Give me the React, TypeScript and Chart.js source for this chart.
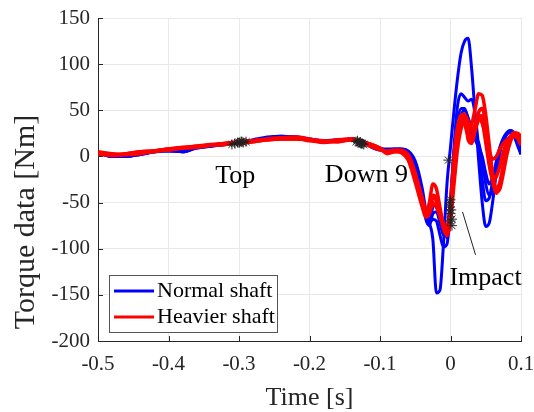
import React, { useEffect, useRef } from "react";
import { Chart, registerables } from "chart.js";
Chart.register(...registerables);

const FONT = "'Liberation Serif', 'Times New Roman', serif";

const TIME = [
  -0.5, -0.48, -0.46, -0.44, -0.42, -0.4, -0.38, -0.36, -0.34, -0.32, -0.3, -0.28, -0.26, -0.24, -0.22, -0.2, -0.18, -0.16, -0.14, -0.12, -0.1,
  -0.09, -0.08, -0.07, -0.06, -0.05, -0.04, -0.035, -0.03, -0.025, -0.02, -0.015, -0.01, -0.005, 0, 0.005, 0.01, 0.015, 0.02, 0.025, 0.03,
  0.035, 0.04, 0.045, 0.05, 0.055, 0.06, 0.065, 0.07, 0.075, 0.08, 0.085, 0.09, 0.095, 0.1,
];

const normal1 = [4, 0, 0, 2, 5, 7, 5, 9, 11, 13, 15, 17, 20, 22, 21, 18, 16, 18, 19, 14, 8,
  8, 8, 8, 6, -5, -35, -58, -72, -90, -148, -145, -95, -30, 10, 50, 85, 112, 125, 128, 95, 45, -5, -50, -76, -72, -48, -18, 5, 16, 24, 28, 26, 16, 4];
const normal2 = [3, 1, 0, 3, 6, 6, 5, 10, 12, 14, 16, 17, 20, 21, 21, 19, 17, 18, 18, 15, 9,
  7, 8, 8, 5, -8, -40, -62, -72, -68, -70, -85, -98, -95, -55, 10, 55, 68, 64, 60, 62, 45, 10, -25, -48, -45, -25, -5, 10, 20, 26, 28, 24, 14, 3];
const normal3 = [4, 0, 1, 3, 5, 7, 6, 9, 11, 13, 15, 18, 21, 22, 20, 18, 16, 17, 19, 14, 8,
  6, 7, 7, 3, -12, -45, -68, -75, -62, -60, -72, -85, -80, -45, 5, 38, 52, 52, 40, 25, 20, 15, -5, -30, -42, -35, -15, 5, 18, 25, 27, 25, 18, 8];
const normal4 = [3, 1, 0, 2, 5, 6, 5, 10, 12, 13, 15, 17, 20, 21, 21, 19, 17, 17, 18, 13, 7,
  7, 7, 6, 2, -15, -48, -65, -70, -55, -52, -60, -78, -88, -68, -20, 25, 45, 50, 42, 30, 18, 10, 0, -18, -30, -22, -8, 8, 18, 24, 26, 22, 12, 2];

const heavy1 = [4, 2, 2, 4, 6, 8, 9, 11, 12, 14, 15, 17, 19, 20, 20, 18, 16, 17, 19, 14, 8,
  5, 6, 7, 0, -22, -50, -62, -50, -30, -35, -55, -75, -84, -62, -15, 22, 40, 45, 38, 28, 35, 45, 38, 15, -10, -25, -22, -10, 5, 15, 22, 25, 20, 12];
const heavy2 = [3, 2, 3, 5, 6, 7, 9, 10, 12, 13, 15, 16, 18, 19, 19, 18, 17, 16, 18, 15, 9,
  4, 5, 5, -3, -25, -52, -64, -58, -45, -48, -62, -78, -86, -70, -30, 8, 30, 38, 32, 35, 52, 68, 66, 45, 12, -20, -35, -28, -10, 8, 18, 22, 20, 14];
const heavy3 = [4, 1, 2, 4, 5, 8, 10, 11, 13, 14, 16, 17, 18, 20, 21, 19, 16, 18, 19, 13, 7,
  6, 7, 6, 2, -18, -48, -60, -56, -50, -55, -65, -76, -82, -55, -5, 30, 44, 46, 18, 14, 28, 40, 44, 30, 0, -28, -40, -30, -10, 8, 20, 26, 24, 18];
const heavy4 = [5, 3, 2, 3, 6, 7, 9, 11, 12, 14, 14, 16, 18, 19, 19, 18, 15, 17, 18, 14, 8,
  5, 6, 4, -4, -28, -55, -66, -62, -52, -52, -60, -74, -80, -58, -10, 28, 45, 42, 28, 22, 32, 42, 36, 22, 5, -3, 0, 8, 14, 18, 21, 22, 20, 15];
const heavy5 = [3, 1, 3, 5, 6, 8, 9, 10, 12, 13, 15, 17, 19, 20, 20, 17, 16, 16, 19, 15, 9,
  3, 5, 6, 1, -20, -45, -58, -54, -42, -45, -60, -72, -78, -50, 0, 32, 42, 35, 22, 18, 30, 48, 52, 35, 5, -22, -38, -35, -18, 2, 16, 24, 25, 22];

const topT = [-0.306, -0.302, -0.299, -0.297, -0.294, -0.31, -0.3, -0.296, -0.29];
const topV = [14, 15, 15, 16, 15, 13, 15, 16, 16];
const downT = [-0.134, -0.131, -0.129, -0.127, -0.125, -0.132, -0.128, -0.126, -0.123];
const downV = [16, 15, 15, 14, 14, 17, 15, 14, 13];
const impactT = [-0.003, -0.001, 0, 0, 0.001, -0.001, 0.002, 0, 0.002];
const impactV = [-4, -55, -62, -70, -58, -50, -68, -47, -75];

const X_TICKS = [-0.5, -0.4, -0.3, -0.2, -0.1, 0, 0.1];
const Y_TICKS = [-200, -150, -100, -50, 0, 50, 100, 150];

const BLUE = "#0000ff";
const RED = "#ff0000";

export default function App() {
  const ref = useRef<HTMLCanvasElement>(null);
  useEffect(() => {
    if (!ref.current) return;
    const pts = (v: number[]) => TIME.map((t, i) => ({ x: t, y: v[i] }));
    const line = (label: string, v: number[], color: string, order: number, w: number) => ({
      label,
      data: pts(v),
      borderColor: color,
      backgroundColor: color,
      borderWidth: w,
      pointRadius: 0,
      cubicInterpolationMode: "monotone",
      fill: false,
      order,
    });
    const stars = (label: string, xs: number[], ys: number[]) => ({
      label,
      data: xs.map((x, i) => ({ x, y: ys[i] })),
      showLine: false,
      pointStyle: "star",
      pointRadius: 5,
      borderColor: "#222222",
      backgroundColor: "#222222",
      pointBorderWidth: 1,
      order: 0,
    });

    const ticksIn = {
      id: "ticksIn",
      beforeDatasetsDraw(chart: any) {
        const { ctx, scales, chartArea } = chart;
        ctx.save();
        ctx.strokeStyle = "#262626";
        ctx.lineWidth = 1;
        ctx.beginPath();
        X_TICKS.forEach((v) => {
          const px = Math.round(scales.x.getPixelForValue(v)) + 0.5;
          ctx.moveTo(px, chartArea.bottom);
          ctx.lineTo(px, chartArea.bottom - 5);
        });
        Y_TICKS.forEach((v) => {
          const py = Math.round(scales.y.getPixelForValue(v)) + 0.5;
          ctx.moveTo(chartArea.left, py);
          ctx.lineTo(chartArea.left + 5, py);
        });
        ctx.stroke();
        ctx.restore();
      },
    };

    const overlay = {
      id: "overlay",
      afterDraw(chart: any) {
        const { ctx, scales, chartArea } = chart;
        const x = scales.x;
        const y = scales.y;
        ctx.save();
        // axis titles
        ctx.fillStyle = "#262626";
        ctx.font = `26px ${FONT}`;
        ctx.textAlign = "center";
        ctx.textBaseline = "alphabetic";
        ctx.fillText("Time [s]", (chartArea.left + chartArea.right) / 2, 405);
        ctx.save();
        ctx.translate(34, 222);
        ctx.rotate(-Math.PI / 2);
        ctx.font = `30px ${FONT}`;
        ctx.fillText("Torque data [Nm]", 0, 0);
        ctx.restore();

        // annotations
        ctx.fillStyle = "#000000";
        ctx.font = `26px ${FONT}`;
        ctx.fillText("Top", x.getPixelForValue(-0.3054), y.getPixelForValue(-28.7));
        ctx.fillText("Down 9", x.getPixelForValue(-0.1193), y.getPixelForValue(-27.6));
        ctx.fillText("Impact", x.getPixelForValue(0.0497), y.getPixelForValue(-139));
        ctx.strokeStyle = "#222222";
        ctx.lineWidth = 1;
        ctx.beginPath();
        ctx.moveTo(x.getPixelForValue(0.017), y.getPixelForValue(-60));
        ctx.lineTo(x.getPixelForValue(0.0355), y.getPixelForValue(-106.6));
        ctx.stroke();

        // legend
        ctx.fillStyle = "#ffffff";
        ctx.fillRect(109.5, 275.5, 168, 57);
        ctx.strokeStyle = "#555555";
        ctx.lineWidth = 1;
        ctx.strokeRect(109.5, 275.5, 168, 57);
        ctx.lineWidth = 3;
        ctx.strokeStyle = BLUE;
        ctx.beginPath();
        ctx.moveTo(114, 291);
        ctx.lineTo(154, 291);
        ctx.stroke();
        ctx.strokeStyle = RED;
        ctx.beginPath();
        ctx.moveTo(114, 317);
        ctx.lineTo(154, 317);
        ctx.stroke();
        ctx.fillStyle = "#000000";
        ctx.font = `22px ${FONT}`;
        ctx.textAlign = "left";
        ctx.textBaseline = "middle";
        ctx.fillText("Normal shaft", 157, 291);
        ctx.fillText("Heavier shaft", 157, 317);
        ctx.restore();
      },
    };

    const chart = new Chart(ref.current, {
      type: "line",
      data: {
        datasets: [
          stars("Top", topT, topV),
          stars("Down 9", downT, downV),
          stars("Impact", impactT, impactV),
          line("Heavier shaft 1", heavy1, RED, 1, 3.5),
          line("Heavier shaft 2", heavy2, RED, 1, 3.5),
          line("Heavier shaft 3", heavy3, RED, 1, 3.5),
          line("Heavier shaft 4", heavy4, RED, 1, 3.5),
          line("Heavier shaft 5", heavy5, RED, 1, 3.5),
          line("Normal shaft 1", normal1, BLUE, 2, 3),
          line("Normal shaft 2", normal2, BLUE, 2, 3),
          line("Normal shaft 3", normal3, BLUE, 2, 3),
          line("Normal shaft 4", normal4, BLUE, 2, 3),
        ] as any,
      },
      options: {
        animation: false,
        responsive: false,
        layout: { padding: { left: 0, right: 13, top: 18, bottom: 0 } },
        plugins: { legend: { display: false }, tooltip: { enabled: false } },
        scales: {
          x: {
            type: "linear",
            min: -0.5,
            max: 0.1,
            afterFit: (s: any) => { s.height = 71; s.paddingRight = 0; s.paddingLeft = 0; },
            afterBuildTicks: (s: any) => { s.ticks = X_TICKS.map((v) => ({ value: v })); },
            ticks: {
              padding: 11,
              color: "#262626",
              font: { family: FONT, size: 21 },
              callback: (v: any) => String(Number(Number(v).toFixed(1))),
            },
            grid: { color: "#e8e8e8", lineWidth: 1, drawTicks: false },
            border: { display: true, color: "#262626", width: 1 },
          },
          y: {
            type: "linear",
            min: -200,
            max: 150,
            afterFit: (s: any) => { s.width = 98; s.paddingTop = 0; s.paddingBottom = 0; },
            afterBuildTicks: (s: any) => { s.ticks = Y_TICKS.map((v) => ({ value: v })); },
            ticks: {
              padding: 8,
              color: "#262626",
              font: { family: FONT, size: 21 },
              callback: (v: any) => String(v),
            },
            grid: { color: "#e8e8e8", lineWidth: 1, drawTicks: false },
            border: { display: true, color: "#262626", width: 1 },
          },
        },
      } as any,
      plugins: [ticksIn, overlay],
    });
    return () => chart.destroy();
  }, []);

  return (
    <div style={{ position: "absolute", left: 0, top: 0, width: 534, height: 412, background: "#ffffff" }}>
      <canvas ref={ref} width={534} height={412} />
    </div>
  );
}
